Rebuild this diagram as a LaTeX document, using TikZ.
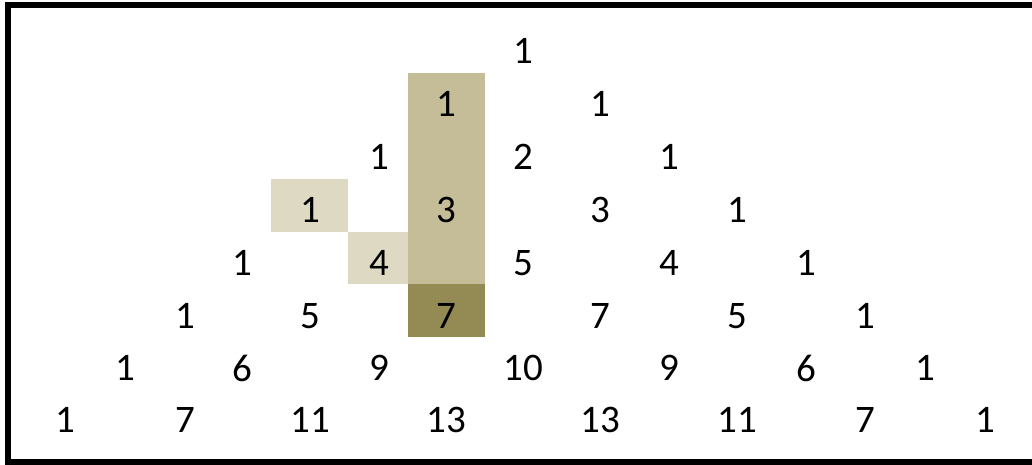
\documentclass[tikz,border=0pt]{standalone}
\usepackage{fontspec}
\setmainfont{Carlito}
\definecolor{tanmid}{HTML}{C4BD97}
\definecolor{tanlight}{HTML}{DDD9C3}
\definecolor{tandark}{HTML}{948A54}
\tikzset{
  num/.style={inner sep=0pt, font=\fontsize{39}{44}\selectfont, text=black},
  cellfill/.style={draw=none}
}
\begin{document}
\begin{tikzpicture}[x=1pt,y=-1pt]
\useasboundingbox (0,0) rectangle (1032,464);
\fill[white] (0,0) rectangle (1032,464);
% shaded cells
\fill[tanmid] (408,73) rectangle (485,284);
\fill[tandark] (408,284) rectangle (485,337);
\fill[tanlight] (271,179) rectangle (348,232);
\fill[tanlight] (348,232) rectangle (408,284);
% border
\draw[line width=6pt] (1045,5) -- (8,5) -- (8,461.5) -- (1045,461.5);
% numbers
\def\cx#1{\ifcase#1\or65\or125\or185\or242\or310\or379\or446\or523\or600\or669\or737\or806\or865\or925\or985\fi}
\def\ry#1{\ifcase#1\or51\or104\or157\or210\or263\or316\or368\or420\fi}
\foreach \r/\c/\v in {
  1/8/1,
  2/7/1, 2/9/1,
  3/6/1, 3/8/2, 3/10/1,
  4/5/1, 4/7/3, 4/9/3, 4/11/1,
  5/4/1, 5/6/4, 5/8/5, 5/10/4, 5/12/1,
  6/3/1, 6/5/5, 6/7/7, 6/9/7, 6/11/5, 6/13/1,
  7/2/1, 7/4/6, 7/6/9, 7/8/10, 7/10/9, 7/12/6, 7/14/1,
  8/1/1, 8/3/7, 8/5/11, 8/7/13, 8/9/13, 8/11/11, 8/13/7, 8/15/1}
  \node[num] (n-\r-\c) at (\cx{\c},\ry{\r}) {\v};
\end{tikzpicture}
\end{document}
